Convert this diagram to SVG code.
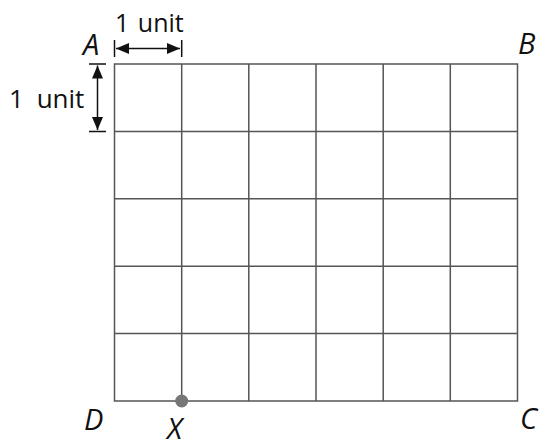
<svg xmlns="http://www.w3.org/2000/svg" width="539" height="442" viewBox="0 0 539 442">
<defs>
<style>
.grid{stroke:#555;stroke-width:1.5;fill:none}
.dim{stroke:#111;stroke-width:1.5;fill:none}
.lbl{font-family:"Open Sans","Liberation Sans",sans-serif;font-size:29px;font-style:italic;fill:#111}
.unit{font-family:"Open Sans","Liberation Sans",sans-serif;font-size:25px;fill:#111}
</style>
<marker id="ah" viewBox="0 0 13 11" refX="13" refY="5.5" markerWidth="13" markerHeight="11" markerUnits="userSpaceOnUse" orient="auto-start-reverse">
<path d="M0,0 L13,5.5 L0,11 Z" fill="#111"/>
</marker>
</defs>
<g id="grid">
<rect class="grid" x="114.5" y="64" width="403" height="337"/>
<path class="grid" d="M181.7,64V401 M248.8,64V401 M316,64V401 M383.2,64V401 M450.3,64V401 M114.5,131.4H517.5 M114.5,198.8H517.5 M114.5,266.2H517.5 M114.5,333.6H517.5"/>
</g>
<g id="connectors">
<path class="dim" d="M114.5,40V57 M181.7,40V57"/>
<path class="dim" d="M116,48.5H180" marker-start="url(#ah)" marker-end="url(#ah)"/>
<path class="dim" d="M89,64H106 M89,131.4H106"/>
<path class="dim" d="M97.5,65.5V130" marker-start="url(#ah)" marker-end="url(#ah)"/>
</g>
<g id="labels">
<text class="unit" x="115" y="32">1 <tspan dx="2">unit</tspan></text>
<text class="unit" x="9" y="108" style="font-size:26px">1 <tspan dx="6">unit</tspan></text>
<text class="lbl" x="83" y="55">A</text>
<text class="lbl" x="518" y="54">B</text>
<text class="lbl" x="520" y="429">C</text>
<text class="lbl" x="84" y="430">D</text>
</g>
<g id="pointX">
<circle cx="181.7" cy="401" r="6.5" fill="#777"/>
<text class="lbl" x="167" y="439">X</text>
</g>
</svg>
